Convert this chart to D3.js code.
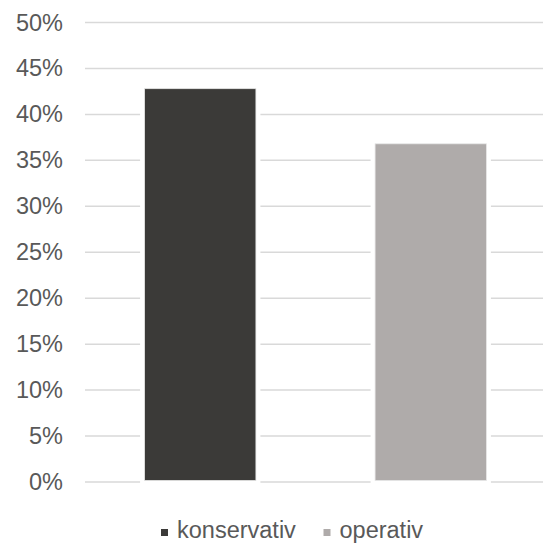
<!DOCTYPE html>
<html>
<head>
<meta charset="utf-8">
<script src="https://cdn.jsdelivr.net/npm/d3@7/dist/d3.min.js"></script>
<style>
  html, body { margin: 0; padding: 0; background: #fff; }
  svg { display: block; }
</style>
</head>
<body>
<svg id="chart" width="543" height="544"></svg>
<script>
// Anteil je Therapieform
const categories = ["konservativ", "operativ"];
const values = [0.428, 0.368];
const colors = ["#3b3a38", "#afabaa"];
const yTicks = [0, 0.05, 0.10, 0.15, 0.20, 0.25, 0.30, 0.35, 0.40, 0.45, 0.50];

const svg = d3.select("#chart");
const margin = { left: 85, right: -3, top: 22.5, bottom: 62 };
const W = 543, H = 544;
const fontFamily = "Liberation Sans, Arial, sans-serif";
const textColor = "#595959";
const fontSize = 23.5;

const x = d3.scaleBand()
  .domain(categories)
  .range([margin.left, W - margin.right])
  .paddingInner(0.517)
  .paddingOuter(0.2585);

const y = d3.scaleLinear()
  .domain([0, 0.5])
  .range([H - margin.bottom, margin.top]);

// Gitterlinien
svg.append("g")
  .selectAll("line")
  .data(yTicks)
  .join("line")
  .attr("x1", margin.left)
  .attr("x2", W)
  .attr("y1", d => y(d))
  .attr("y2", d => y(d))
  .attr("stroke", "#d9d9d9")
  .attr("stroke-width", 1.5);

// y-Achse
const yAxis = d3.axisLeft(y)
  .tickValues(yTicks)
  .tickFormat(d3.format(".0%"))
  .tickSize(0)
  .tickPadding(0);

const gy = svg.append("g")
  .attr("transform", `translate(63,0)`)
  .call(yAxis);
gy.select(".domain").remove();
gy.selectAll("text")
  .attr("font-family", fontFamily)
  .attr("font-size", fontSize)
  .attr("fill", textColor);

// Balken mit weißem Rand
const data = categories.map((c, i) => ({ c, v: values[i], col: colors[i] }));
const bars = svg.append("g");
bars.selectAll("rect.gap")
  .data(data)
  .join("rect")
  .attr("class", "gap")
  .attr("x", d => x(d.c) - 4.5)
  .attr("width", x.bandwidth() + 9)
  .attr("y", d => y(d.v) - 2)
  .attr("height", d => y(0) - y(d.v) + 4)
  .attr("fill", "#fff");
bars.selectAll("rect.bar")
  .data(data)
  .join("rect")
  .attr("class", "bar")
  .attr("x", d => x(d.c))
  .attr("width", x.bandwidth())
  .attr("y", d => y(d.v))
  .attr("height", d => y(0) - y(d.v) - 1.5)
  .attr("fill", d => d.col)
  .attr("stroke", "#e6e6e6")
  .attr("stroke-width", 0.8);

// Legende
const legend = svg.append("g").attr("transform", "translate(0,538)");
const legendX = [161, 323.5];
const items = legend.selectAll("g")
  .data(data)
  .join("g")
  .attr("transform", (d, i) => `translate(${legendX[i]},0)`);
items.append("rect")
  .attr("x", 0)
  .attr("y", -9)
  .attr("width", 7)
  .attr("height", 7)
  .attr("fill", d => d.col);
items.append("text")
  .attr("x", 16)
  .attr("y", 0)
  .attr("font-family", fontFamily)
  .attr("font-size", fontSize)
  .attr("fill", textColor)
  .text(d => d.c);
</script>
</body>
</html>
